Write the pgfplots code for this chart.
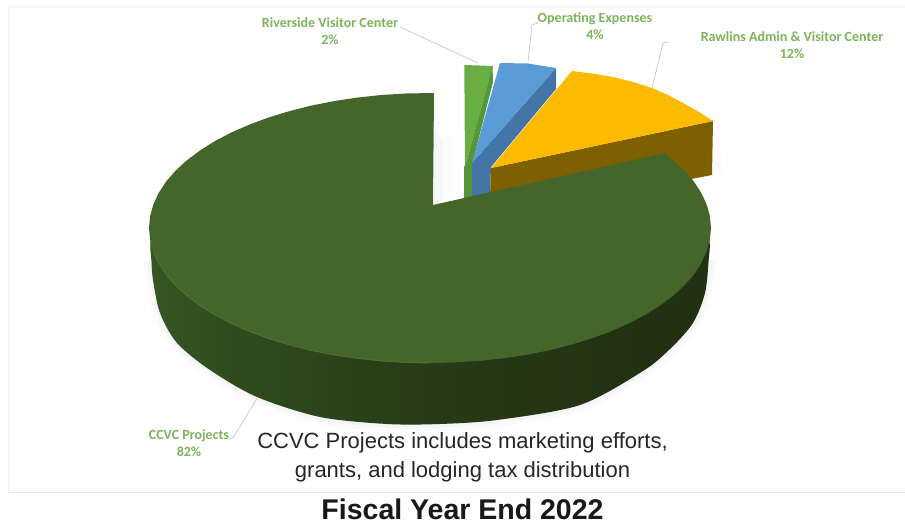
\documentclass[border=0pt]{standalone}
\usepackage{pgfplots}
\pgfplotsset{compat=1.18}
\usepackage{fontspec}
\setmainfont{Liberation Sans}
\newfontfamily\carl{Carlito}
\definecolor{topg}{HTML}{44662B}
\definecolor{rim}{HTML}{4F7A35}
\definecolor{lab}{HTML}{7DB35A}
\definecolor{leader}{HTML}{C8C8C8}
\pgfdeclarehorizontalshading{wall}{100bp}{
 rgb(0bp)=(0.25,0.39,0.16);
 rgb(18bp)=(0.24,0.37,0.15);
 rgb(32bp)=(0.19,0.30,0.12);
 rgb(50bp)=(0.15,0.23,0.09);
 rgb(70bp)=(0.13,0.19,0.07);
 rgb(100bp)=(0.13,0.20,0.07)}
\begin{document}
\begin{tikzpicture}
\begin{axis}[
 scale only axis, width=905pt, height=524pt,
 xmin=0, xmax=905, ymin=0, ymax=524, y dir=reverse,
 hide axis, clip=true]
% page
\addplot[draw=none, fill=white] coordinates {(0,0)(905,0)(905,524)(0,524)} -- cycle;
% frame
\addplot[draw=black!6, line width=1pt] coordinates {(8,492)(8,7)(905,7)};
\addplot[draw=black!9, line width=1pt] coordinates {(8,492)(905,492)};
% soft shadows
\addplot[draw=black, opacity=0.015, line width=14pt, smooth] coordinates {(151,262)(153,280)(160,313)(177,343)(210,370)(257,397)(320,417)(387,424)(440,424)(497,420)(580,405)(643,371)(670,349)(693,323)(705,293)(710,260)};
\addplot[draw=black, opacity=0.025, line width=7pt, smooth] coordinates {(151,262)(153,280)(160,313)(177,343)(210,370)(257,397)(320,417)(387,424)(440,424)(497,420)(580,405)(643,371)(670,349)(693,323)(705,293)(710,260)};
\addplot[draw=none, fill=black, opacity=0.012] coordinates {(434,125)(452,140)(452,195)(434,205)} -- cycle;
\addplot[draw=none, fill=black, opacity=0.018] coordinates {(434,130)(443,140)(443,200)(434,205)} -- cycle;
\addplot[draw=none, fill=black, opacity=0.012] coordinates {(714,150)(722,155)(722,172)(705,182)} -- cycle;
% Riverside Visitor Center 2%
\addplot[draw=none, fill={rgb,255:red,84;green,150;blue,56}] coordinates {(464,167)(474,150)(474,198)(464,200)} -- cycle;
\addplot[draw=none, fill={rgb,255:red,84;green,150;blue,56}] coordinates {(465,167)(492.5,66)(493,82)(472,165)} -- cycle;
\addplot[draw=none, fill={rgb,255:red,106;green,173;blue,69}] coordinates {(464.3,65)(493,66)(465,167)} -- cycle;
% Operating Expenses 4%
\addplot[draw=none, fill={rgb,255:red,67;green,117;blue,166}] coordinates {(556,68)(556,89)(491,167)(490,195)(472,197)(472,163)} -- cycle;
\addplot[draw=none, fill={rgb,255:red,91;green,155;blue,213}] coordinates {(500,63)(528,63.5)(556,68)(472,163)} -- cycle;
% Rawlins Admin & Visitor Center 12%
\addplot[draw=none, fill={rgb,255:red,127;green,96;blue,0}] coordinates {(491,168)(713,121)(712,175)(660,185)(490,197)} -- cycle;
\addplot[draw=none, fill={rgb,255:red,252;green,187;blue,0}] coordinates {(491,168)(572,71)(592,73.5)(613,77)(633,82)(652,88)(668,95)(683,103)(699,112)(713,121)} -- cycle;
% CCVC Projects 82%: side wall
\addplot[draw=none, shading=wall, smooth] coordinates {(165,235)(151,240)(151.5,262)(153,280)(160,313)(177,343)(210,370)(257,397)(320,417)(387,424)(440,424)(497,420)(580,405)(643,371)(670,349)(693,323)(705,293)(708.5,262)(709,240)(695,235)} -- cycle;
% CCVC Projects 82%: top face
\addplot[draw=none, fill=topg] coordinates {(434,93)(405.5,93.5)(381.2,95)(357.3,97.6)(333.9,101.1)(311.2,105.6)(289.5,111.1)(268.8,117.4)(249.4,124.6)(231.3,132.5)(214.7,141.2)(199.8,150.6)(186.6,160.5)(175.3,170.9)(165.9,181.8)(158.6,193.1)(153.3,204.6)(150.1,216.2)(149,228)(150.1,239.8)(153.3,251.4)(158.6,262.9)(165.9,274.2)(175.3,285.1)(186.6,295.5)(199.8,305.4)(214.7,314.8)(231.3,323.5)(249.4,331.4)(268.8,338.6)(289.5,344.9)(311.2,350.4)(333.9,354.9)(357.3,358.4)(381.2,361)(405.5,362.5)(430,363)(454.5,362.5)(478.8,361)(502.7,358.4)(526.1,354.9)(548.8,350.4)(570.5,344.9)(591.2,338.6)(610.6,331.4)(628.7,323.5)(645.3,314.8)(660.2,305.4)(673.4,295.5)(684.7,285.1)(694.1,274.2)(701.4,262.9)(706.7,251.4)(709.9,239.8)(711,228)(709.9,216.2)(706.7,204.6)(701.4,193.1)(694.1,181.8)(684.7,170.9)(673.4,160.5)(665,153)(433,205)} -- cycle;
% rim highlight
\addplot[draw=rim, line width=0.9pt, opacity=0.8] coordinates {(153.3,251.4)(158.6,262.9)(165.9,274.2)(175.3,285.1)(186.6,295.5)(199.8,305.4)(214.7,314.8)(231.3,323.5)(249.4,331.4)(268.8,338.6)(289.5,344.9)(311.2,350.4)(333.9,354.9)(357.3,358.4)(381.2,361)(405.5,362.5)(430,363)};
% leaders
\addplot[draw=leader, line width=0.7pt] coordinates {(400,27)(478,63)};
\addplot[draw=leader, line width=0.7pt] coordinates {(538,23)(532,25)(528,62)};
\addplot[draw=leader, line width=0.7pt] coordinates {(668,42)(663,43)(652,88)};
\addplot[draw=leader, line width=0.7pt] coordinates {(229,439)(233,438)(258,397)};
% labels
\node[font=\carl\bfseries\fontsize{14}{17}\selectfont, text=lab, align=center] at (axis cs:330,31) {Riverside Visitor Center\\2\%};
\node[font=\carl\bfseries\fontsize{14}{17}\selectfont, text=lab, align=center] at (axis cs:595,26) {Operating Expenses\\4\%};
\node[font=\carl\bfseries\fontsize{14}{17}\selectfont, text=lab, align=center] at (axis cs:792,45) {Rawlins Admin \& Visitor Center\\12\%};
\node[font=\carl\bfseries\fontsize{14}{17}\selectfont, text=lab, align=center] at (axis cs:189,443) {CCVC Projects\\82\%};
\node[font=\fontsize{22}{29}\selectfont, text=black!85, align=center] at (axis cs:462.5,457.5) {CCVC Projects includes marketing efforts,\\grants, and lodging tax distribution};
\node[font=\bfseries\fontsize{28.5}{32}\selectfont, text=black!90, inner sep=0pt] at (axis cs:462.5,509.5) {Fiscal Year End 2022};
\end{axis}
\end{tikzpicture}
\end{document}
